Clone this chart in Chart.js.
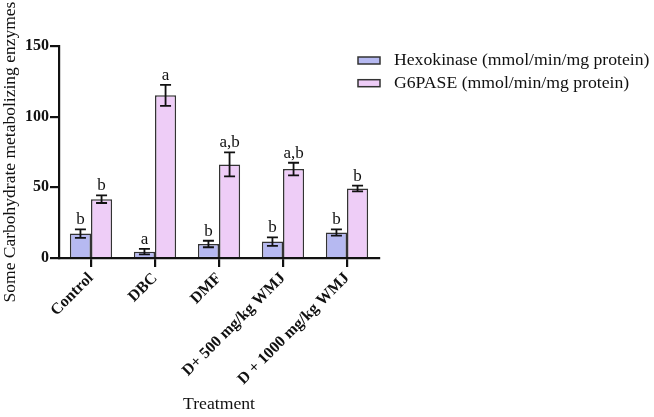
<!DOCTYPE html>
<html><head><meta charset="utf-8">
<script src="https://cdn.jsdelivr.net/npm/chart.js@4.4.1/dist/chart.umd.min.js"></script>
<style>html,body{margin:0;padding:0;background:#fff;}#wrap{width:654px;height:417px;}</style>
</head><body><div id="wrap"><canvas id="c" width="654" height="417"></canvas></div>
<script>
const categories = ["Control", "DBC", "DMF", "D+ 500 mg/kg WMJ", "D + 1000 mg/kg WMJ"];
const seriesNames = ["Hexokinase (mmol/min/mg protein)", "G6PASE (mmol/min/mg protein)"];
const hexokinase = [17.3, 4.5, 9.9, 11.6, 18.0];
const hexokinaseErr = [3.0, 2.0, 2.3, 3.0, 2.2];
const hexokinaseLetters = ["b", "a", "b", "b", "b"];
const g6pase = [41.6, 115.1, 66.2, 62.9, 49.2];
const g6paseErr = [2.7, 7.4, 8.5, 4.5, 2.0];
const g6paseLetters = ["b", "a", "a,b", "a,b", "b"];
const yTicks = [0, 50, 100, 150];

const SERIF = '"Liberation Serif", "Times New Roman", serif';
const colors = ["#b6b9f1", "#eecdf7"];

const errPlugin = {
  id: 'errbars',
  afterDatasetsDraw(chart) {
    const ctx = chart.ctx;
    const y = chart.scales.y;
    const errs = [hexokinaseErr, g6paseErr];
    const letters = [hexokinaseLetters, g6paseLetters];
    chart.data.datasets.forEach((ds, di) => {
      const meta = chart.getDatasetMeta(di);
      meta.data.forEach((bar, i) => {
        const v = ds.data[i], e = errs[di][i];
        const yt = y.getPixelForValue(v + e), yb = y.getPixelForValue(v - e);
        const x = bar.x;
        ctx.save();
        ctx.strokeStyle = '#111';
        ctx.lineWidth = 1.8;
        ctx.beginPath();
        ctx.moveTo(x, yt); ctx.lineTo(x, yb);
        ctx.moveTo(x - 5.5, yt); ctx.lineTo(x + 5.5, yt);
        ctx.moveTo(x - 5.5, yb); ctx.lineTo(x + 5.5, yb);
        ctx.stroke();
        ctx.fillStyle = '#111';
        ctx.font = '17px ' + SERIF;
        ctx.textAlign = 'center';
        ctx.textBaseline = 'alphabetic';
        ctx.fillText(letters[di][i], x, yt - 5);
        ctx.restore();
      });
    });
  }
};

const legendPlugin = {
  id: 'customLegend',
  afterDraw(chart) {
    const ctx = chart.ctx;
    chart.data.datasets.forEach((ds, i) => {
      const cy = 60.5 + i * 22.7;
      ctx.save();
      ctx.fillStyle = ds.backgroundColor;
      ctx.strokeStyle = '#333';
      ctx.lineWidth = 1.5;
      ctx.fillRect(358, cy - 3.5, 22, 7);
      ctx.strokeRect(358, cy - 3.5, 22, 7);
      ctx.fillStyle = '#111';
      ctx.font = '17.7px ' + SERIF;
      ctx.textAlign = 'left';
      ctx.textBaseline = 'middle';
      ctx.fillText(ds.label, 394, cy);
      ctx.restore();
    });
  }
};

new Chart(document.getElementById('c'), {
  type: 'bar',
  data: {
    labels: categories,
    datasets: [
      { label: seriesNames[0], data: hexokinase, backgroundColor: colors[0], borderColor: '#333', borderWidth: 1.5 },
      { label: seriesNames[1], data: g6pase, backgroundColor: colors[1], borderColor: '#333', borderWidth: 1.5 }
    ]
  },
  options: {
    responsive: false,
    animation: false,
    layout: { padding: { top: 46, right: 275, left: 0, bottom: 0 } },
    plugins: { legend: { display: false }, tooltip: { enabled: false } },
    datasets: { bar: { categoryPercentage: 0.66, barPercentage: 1.0 } },
    scales: {
      x: {
        grid: { display: true, drawOnChartArea: false, drawTicks: true, offset: false, tickLength: 9, tickColor: '#111', lineWidth: 2.2 },
        border: { display: true, color: '#111', width: 2.2 },
        ticks: { color: '#111', font: { family: SERIF, size: 16, weight: 'bold' }, minRotation: 45, maxRotation: 45, padding: 2 },
        title: { display: true, text: 'Treatment', color: '#111', font: { family: SERIF, size: 17.7 }, padding: { top: 0, bottom: 2 } },
        afterFit(s) { s.height = 159; }
      },
      y: {
        min: 0, max: 150,
        afterBuildTicks(s) { s.ticks = yTicks.map(v => ({ value: v })); },
        grid: { display: true, drawOnChartArea: false, drawTicks: true, tickLength: 9, tickColor: '#111', lineWidth: 2.2 },
        border: { display: true, color: '#111', width: 2.2 },
        ticks: { color: '#111', font: { family: SERIF, size: 16, weight: 'bold' }, padding: 1 },
        title: { display: true, text: 'Some Carbohydrate metabolizing enzymes', color: '#111', font: { family: SERIF, size: 17.5 }, padding: { top: 0, bottom: 8 } },
        afterFit(s) { s.width = 59; }
      }
    }
  },
  plugins: [errPlugin, legendPlugin]
});
</script>
</body></html>
